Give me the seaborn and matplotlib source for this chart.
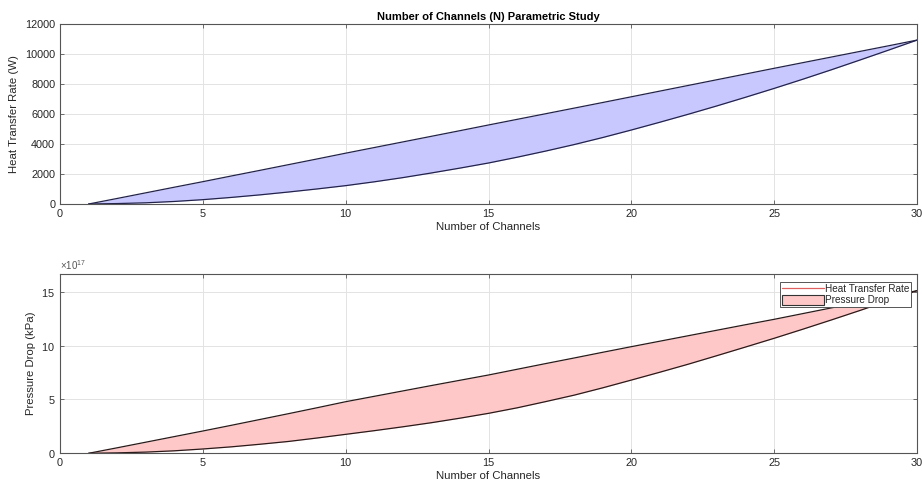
import matplotlib
matplotlib.use("Agg")
import matplotlib.pyplot as plt
import numpy as np
import pandas as pd
import seaborn as sns
from matplotlib.lines import Line2D
from matplotlib.patches import Patch
from matplotlib.ticker import ScalarFormatter

# Data
channels = list(range(1, 31))
heat_upper = [0, 370, 745, 1120, 1490, 1870, 2245, 2625, 3005, 3390,
              3765, 4140, 4515, 4890, 5270, 5645, 6020, 6395, 6770, 7150,
              7530, 7910, 8290, 8670, 9050, 9425, 9800, 10175, 10550, 10930]
heat_lower = [0, 30, 80, 170, 290, 440, 610, 800, 1005, 1225,
              1480, 1760, 2070, 2395, 2735, 3120, 3530, 3965, 4435, 4935,
              5455, 5990, 6545, 7120, 7710, 8320, 8950, 9600, 10260, 10930]
# pressure drop in units of 1e17 kPa
press_upper = [0, 0.51, 1.03, 1.55, 2.07, 2.60, 3.14, 3.68, 4.23, 4.79,
               5.29, 5.79, 6.29, 6.78, 7.27, 7.80, 8.33, 8.85, 9.38, 9.90,
               10.41, 10.92, 11.43, 11.94, 12.44, 12.97, 13.50, 14.03, 14.56, 15.10]
press_lower = [0, 0.04, 0.11, 0.23, 0.40, 0.60, 0.84, 1.10, 1.42, 1.76,
               2.10, 2.46, 2.84, 3.26, 3.71, 4.22, 4.80, 5.40, 6.08, 6.80,
               7.53, 8.28, 9.07, 9.87, 10.68, 11.52, 12.38, 13.26, 14.17, 15.10]

df = pd.DataFrame({
    "N": channels,
    "q_hi": heat_upper,
    "q_lo": heat_lower,
    "p_hi": np.array(press_upper) * 1e17,
    "p_lo": np.array(press_lower) * 1e17,
})

sns.set_style("whitegrid")
plt.rcParams["font.family"] = ["Liberation Sans", "DejaVu Sans"]
plt.rcParams["mathtext.fontset"] = "custom"
plt.rcParams["mathtext.rm"] = "Liberation Sans"

fig = plt.figure(figsize=(9.22, 4.91), dpi=100)
ax1 = fig.add_axes([0.0651, 0.5845, 0.9295, 0.3665])
ax2 = fig.add_axes([0.0651, 0.0768, 0.9295, 0.3652])

txt = "#262626"
for ax in (ax1, ax2):
    ax.set_facecolor("white")
    ax.grid(True, color="#e3e3e3", linewidth=0.7)
    for s in ax.spines.values():
        s.set_color("#555555")
        s.set_linewidth(0.8)
    ax.tick_params(axis="both", direction="in", length=3, width=0.6,
                   colors="#555555", labelcolor=txt, labelsize=7.8,
                   top=True, right=True, bottom=True, left=True)
    ax.set_xlim(0, 30)
    ax.set_xticks(range(0, 31, 5))

# top: heat transfer rate
ax1.fill_between(df["N"], df["q_lo"], df["q_hi"], color="#c8c8ff", linewidth=0)
sns.lineplot(data=df, x="N", y="q_hi", ax=ax1, color="#23234a", linewidth=0.9)
sns.lineplot(data=df, x="N", y="q_lo", ax=ax1, color="#23234a", linewidth=0.9)
ax1.set_ylim(0, 12000)
ax1.set_yticks(range(0, 12001, 2000))
ax1.set_title("Number of Channels (N) Parametric Study", fontsize=8,
              fontweight="bold", color="black", pad=3)
ax1.set_xlabel("Number of Channels", fontsize=8.2, color=txt, labelpad=2)
ax1.set_ylabel("Heat Transfer Rate (W)", fontsize=8.2, color=txt, labelpad=4)

# bottom: pressure drop
ax2.fill_between(df["N"], df["p_lo"], df["p_hi"], color="#ffc8c8", linewidth=0)
sns.lineplot(data=df, x="N", y="p_hi", ax=ax2, color="#2a1a1a", linewidth=0.9)
sns.lineplot(data=df, x="N", y="p_lo", ax=ax2, color="#2a1a1a", linewidth=0.9)
ax2.set_ylim(0, 16.65e17)
ax2.set_yticks([0, 5e17, 10e17, 15e17])
fmt = ScalarFormatter(useMathText=True)
fmt.set_powerlimits((17, 17))
ax2.yaxis.set_major_formatter(fmt)
ax2.yaxis.get_offset_text().set_fontsize(7)
ax2.yaxis.get_offset_text().set_color("#555555")
ax2.set_xlabel("Number of Channels", fontsize=8.2, color=txt, labelpad=2)
ax2.set_ylabel("Pressure Drop (kPa)", fontsize=8.2, color=txt, labelpad=4)

handles = [Line2D([0], [0], color="#e06060", linewidth=0.9),
           Patch(facecolor="#ffc8c8", edgecolor="#333333", linewidth=0.8)]
leg = ax2.legend(handles, ["Heat Transfer Rate", "Pressure Drop"],
                 loc="upper right", bbox_to_anchor=(0.9935, 0.955),
                 fontsize=7.2, frameon=True, fancybox=False,
                 borderpad=0.2, labelspacing=0.1, handlelength=4.2,
                 handleheight=1.1, handletextpad=0.15, borderaxespad=0.0)
leg.get_frame().set_edgecolor("#555555")
leg.get_frame().set_linewidth(0.7)
leg.get_frame().set_alpha(1)

fig.savefig("out.png", dpi=100)
